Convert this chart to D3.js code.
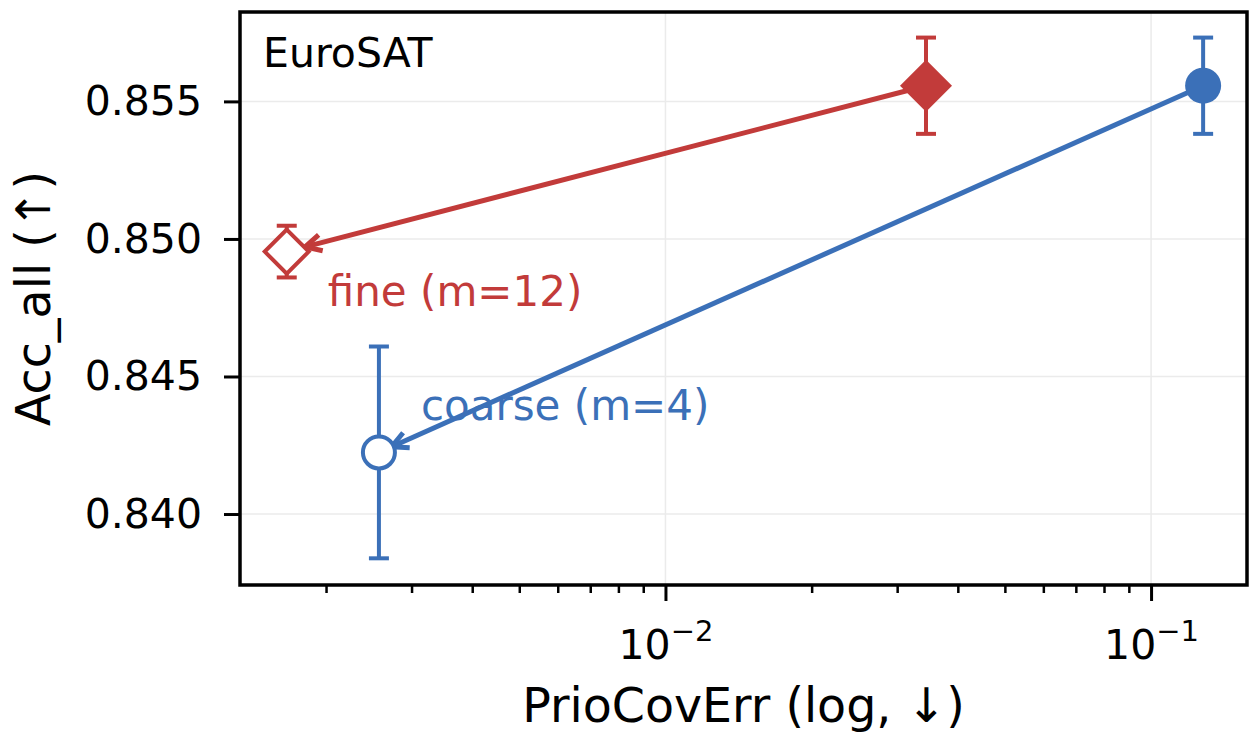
<!DOCTYPE html>
<html>
<head>
<meta charset="utf-8">
<script src="https://cdn.jsdelivr.net/npm/d3@7"></script>
<style>
  body { margin: 0; background: #fff; }
  text { font-family: "DejaVu Sans", sans-serif; }
</style>
</head>
<body>
<div id="chart"></div>
<script>
// data
var seriesNames = ["fine (m=12)", "coarse (m=4)"];
var fineX = [0.0344, 0.00166];      // [full, reduced]
var fineY = [0.85557, 0.84954];
var fineErr = [0.00175, 0.00094];
var coarseX = [0.128, 0.00257];
var coarseY = [0.85557, 0.84224];
var coarseErr = [0.00175, 0.00385];
var yTicks = [0.840, 0.845, 0.850, 0.855];
var xMajor = [0.01, 0.1];
var panelName = "EuroSAT";

var W = 1250, H = 736;
var margin = { top: 12, right: 3, bottom: 151, left: 240 },
  width = W - margin.left - margin.right,
  height = H - margin.top - margin.bottom;

var red = "#c23b3a", blue = "#3b70b8";

var svg = d3.select("#chart").append("svg")
  .attr("width", W).attr("height", H);
var g = svg.append("g")
  .attr("transform", "translate(" + margin.left + "," + margin.top + ")");

var x = d3.scaleLog().domain([0.00133, 0.1576]).range([0, width]);
var y = d3.scaleLinear().domain([0.83742, 0.85825]).range([height, 0]);

// grid
g.selectAll(".gy").data(yTicks).enter().append("line")
  .attr("x1", 0).attr("x2", width)
  .attr("y1", function (d) { return y(d); }).attr("y2", function (d) { return y(d); })
  .attr("stroke", "#ebebeb").attr("stroke-width", 1.5);
g.selectAll(".gx").data(xMajor).enter().append("line")
  .attr("y1", 0).attr("y2", height)
  .attr("x1", function (d) { return x(d); }).attr("x2", function (d) { return x(d); })
  .attr("stroke", "#ebebeb").attr("stroke-width", 1.5);

// y axis
var yAxis = g.append("g")
  .call(d3.axisLeft(y).tickValues(yTicks).tickFormat(d3.format(".3f")).tickSize(16).tickPadding(22));
yAxis.select(".domain").remove();
yAxis.selectAll(".tick line").attr("stroke", "#000").attr("stroke-width", 3);
yAxis.selectAll(".tick text").attr("font-size", 41).attr("fill", "#000")
  .attr("font-family", "DejaVu Sans");

// x axis, major + minor
var minor = [];
[0.001, 0.01, 0.1].forEach(function (dec) {
  for (var k = 2; k <= 9; k++) {
    var v = k * dec;
    if (v > x.domain()[0] && v < x.domain()[1]) minor.push(v);
  }
});
var xAxisG = g.append("g").attr("transform", "translate(0," + height + ")");
xAxisG.call(d3.axisBottom(x).tickValues(minor).tickFormat("").tickSize(8));
xAxisG.select(".domain").remove();
xAxisG.selectAll(".tick line").attr("stroke", "#000").attr("stroke-width", 2.5);

var xMaj = g.append("g").attr("transform", "translate(0," + height + ")");
xMaj.call(d3.axisBottom(x).tickValues(xMajor).tickFormat("").tickSize(16));
xMaj.select(".domain").remove();
xMaj.selectAll(".tick line").attr("stroke", "#000").attr("stroke-width", 3);
xMaj.selectAll(".tick").append("text")
  .attr("y", 74).attr("text-anchor", "middle").attr("fill", "#000")
  .attr("font-size", 41)
  .each(function (d) {
    var t = d3.select(this);
    t.append("tspan").text("10");
    t.append("tspan").attr("dy", -18).attr("font-size", 29)
      .text("\u2212" + Math.round(-Math.log10(d)));
  });

// frame
g.append("rect").attr("width", width).attr("height", height)
  .attr("fill", "none").attr("stroke", "#000").attr("stroke-width", 3.5);

// labels
svg.append("text")
  .attr("x", margin.left + width / 2).attr("y", 722)
  .attr("text-anchor", "middle").attr("font-size", 47.5).attr("fill", "#000")
  .text("PrioCovErr (log, \u2193)");
svg.append("text")
  .attr("transform", "translate(50," + (margin.top + height / 2) + ") rotate(-90)")
  .attr("text-anchor", "middle").attr("font-size", 47.5).attr("fill", "#000")
  .text("Acc_all (\u2191)");
g.append("text").attr("x", 23).attr("y", 55)
  .attr("font-size", 41).attr("fill", "#000").text(panelName);

// one series: arrow from full to reduced, error bars, markers
function drawSeries(xs, ys, errs, color, shape, label, labelDx, labelDy) {
  var sx = xs.map(function (v) { return x(v); });
  var sy = ys.map(function (v) { return y(v); });
  var ang = Math.atan2(sy[1] - sy[0], sx[1] - sx[0]);
  var shrink = shape === "diamond" ? 19 : 14;
  var tx = sx[1] - Math.cos(ang) * shrink, ty = sy[1] - Math.sin(ang) * shrink;

  g.append("line").attr("x1", sx[0]).attr("y1", sy[0]).attr("x2", tx).attr("y2", ty)
    .attr("stroke", color).attr("stroke-width", 5);
  var hl = 18, hw = 0.47;
  var head = [
    [tx - hl * Math.cos(ang - hw), ty - hl * Math.sin(ang - hw)],
    [tx, ty],
    [tx - hl * Math.cos(ang + hw), ty - hl * Math.sin(ang + hw)]
  ];
  g.append("path").attr("d", d3.line()(head)).attr("fill", "none")
    .attr("stroke", color).attr("stroke-width", 5).attr("stroke-linejoin", "miter");

  // error bars
  xs.forEach(function (xv, i) {
    var top = y(ys[i] + errs[i]), bot = y(ys[i] - errs[i]), cx = x(xv);
    g.append("line").attr("x1", cx).attr("x2", cx).attr("y1", top).attr("y2", bot)
      .attr("stroke", color).attr("stroke-width", 4);
    [top, bot].forEach(function (yy) {
      g.append("line").attr("x1", cx - 10).attr("x2", cx + 10).attr("y1", yy).attr("y2", yy)
        .attr("stroke", color).attr("stroke-width", 4);
    });
  });

  // markers: index 0 filled, index 1 open
  xs.forEach(function (xv, i) {
    var cx = x(xv), cy = y(ys[i]);
    var m;
    if (shape === "diamond") {
      var r = i === 0 ? 26 : 22;
      m = g.append("path").attr("d", d3.line()([[cx, cy - r], [cx + r, cy], [cx, cy + r], [cx - r, cy]]) + "Z");
    } else {
      m = g.append("circle").attr("cx", cx).attr("cy", cy).attr("r", i === 0 ? 18 : 16);
    }
    if (i === 0) m.attr("fill", color);
    else m.attr("fill", "#fff").attr("stroke", color).attr("stroke-width", 4);
  });

  g.append("text").attr("x", sx[1] + labelDx).attr("y", sy[1] + labelDy)
    .attr("font-size", 42).attr("fill", color).text(label);
}

drawSeries(fineX, fineY, fineErr, red, "diamond", seriesNames[0], 41, 54);
drawSeries(coarseX, coarseY, coarseErr, blue, "circle", seriesNames[1], 42, -32);
</script>
</body>
</html>
